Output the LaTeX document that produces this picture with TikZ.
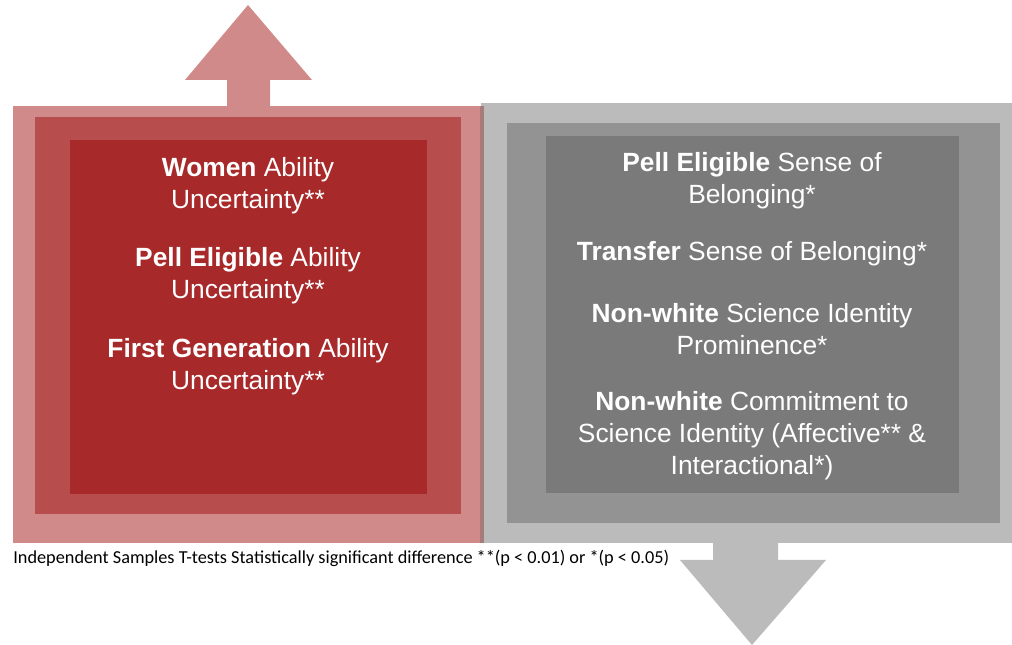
\documentclass[tikz,border=0pt]{standalone}
\usepackage{fontspec}
\setmainfont{Liberation Sans}
\newfontfamily\capfont{Carlito}
\definecolor{redlight}{HTML}{D18A8A}
\definecolor{redmid}{HTML}{B84D4D}
\definecolor{reddark}{HTML}{A8292A}
\definecolor{greylight}{HTML}{BBBBBB}
\definecolor{greymid}{HTML}{939393}
\definecolor{greydark}{HTML}{7A7A7A}
\definecolor{seam}{HTML}{A87B7B}

\begin{document}
\begin{tikzpicture}[x=0.02cm,y=-0.02cm,
  item/.style={text=white,align=center,inner sep=0pt,font=\fontsize{15}{18.2}\selectfont},
  note/.style={anchor=west,inner sep=0pt,font=\capfont\fontsize{10.4}{12}\selectfont}]
\useasboundingbox (0,0) rectangle (1012,645);

\fill[redlight] (227,107) -- (227,80) -- (185,80) -- (248,5) -- (312,80) -- (270,80) -- (270,107) -- cycle;
\fill[redlight] (13,106) rectangle (481,543);
\fill[redmid] (35,117) rectangle (461,514);
\fill[reddark] (70,140) rectangle (427,494);

\fill[greylight] (481,103) rectangle (1012,543);
\fill[seam] (480,106) rectangle (484,543);
\fill[greymid] (507,123) rectangle (1000,523);
\fill[greydark] (546,136) rectangle (959,493);
\fill[greylight] (713,542) -- (713,560) -- (680,560) -- (752,645) -- (826,560) -- (778,560) -- (778,542) -- cycle;

\node[item] (women) at (248,186) {\textbf{Women} Ability\\Uncertainty**};
\node[item] (pell) at (248,276) {\textbf{Pell Eligible} Ability\\Uncertainty**};
\node[item] (firstgen) at (248,367) {\textbf{First Generation} Ability\\Uncertainty**};

\node[item] (pellsob) at (752,181) {\textbf{Pell Eligible} Sense of\\Belonging*};
\node[item] (transfer) at (752,254) {\textbf{Transfer} Sense of Belonging*};
\node[item] (nwprom) at (752,329) {\textbf{Non-white} Science Identity\\Prominence*};
\node[item] (nwcommit) at (752,436) {\textbf{Non-white} Commitment to\\Science Identity (Affective** \&\\Interactional*)};

\node[note] (caption) at (13,558) {Independent Samples T-tests Statistically significant difference **(p < 0.01) or *(p < 0.05)};
\end{tikzpicture}
\end{document}
